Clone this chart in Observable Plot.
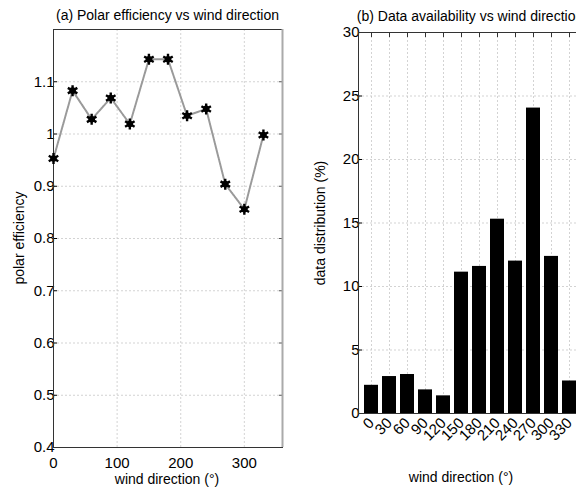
<!DOCTYPE html>
<html><head><meta charset="utf-8">
<script src="https://cdn.jsdelivr.net/npm/d3@7"></script>
<script src="https://cdn.jsdelivr.net/npm/@observablehq/plot@0.6"></script>
<style>
html,body{margin:0;padding:0;width:576px;height:488px;overflow:hidden;background:#fff;font-family:"Liberation Sans",Arial,Helvetica,sans-serif;}
#wrap{position:relative;width:576px;height:488px;overflow:hidden;}
.panel{position:absolute;top:0;}
.panel svg{max-width:none !important;}
.txt{position:absolute;font-size:14px;white-space:nowrap;color:#000;line-height:1;}
</style></head><body><div id="wrap"></div>
<script>
// ---- data ----
const directions = [0, 30, 60, 90, 120, 150, 180, 210, 240, 270, 300, 330];
const polarEfficiency = [0.953, 1.083, 1.028, 1.069, 1.019, 1.143, 1.143, 1.035, 1.048, 0.904, 0.856, 0.998];
const dataDistribution = [2.22, 2.91, 3.07, 1.86, 1.39, 11.13, 11.58, 15.30, 12.00, 24.05, 12.37, 2.56];
const dirTicks = [0, 100, 200, 300];
const effTicks = [0.4, 0.5, 0.6, 0.7, 0.8, 0.9, 1.0, 1.1];
const distTicks = [0, 5, 10, 15, 20, 25, 30];
const titleA = "(a) Polar efficiency vs wind direction";
const titleB = "(b) Data availability vs wind direction";
const xLabel = "wind direction (°)";
const yLabelA = "polar efficiency";
const yLabelB = "data distribution (%)";

const font = '"Liberation Sans", Arial, Helvetica, sans-serif';
const gridStyle = {stroke: "#c8c8c8", strokeOpacity: 1, strokeWidth: 0.8, strokeDasharray: "2,2"};
const wrap = document.getElementById("wrap");

function addText(str, cx, cy, rotate) {
  const d = document.createElement("div");
  d.className = "txt";
  d.textContent = str;
  d.style.left = cx + "px";
  d.style.top = cy + "px";
  d.style.transform = "translate(-50%,-50%)" + (rotate ? " rotate(" + rotate + "deg)" : "");
  wrap.appendChild(d);
}

// ---- panel (a) ----
const effData = directions.map((d, i) => ({dir: d, eff: polarEfficiency[i]}));
const left = Plot.plot({
  width: 290, height: 488,
  marginLeft: 53, marginRight: 8, marginTop: 29, marginBottom: 41,
  style: {fontFamily: font, fontSize: "15px", color: "#000", background: "transparent", overflow: "visible"},
  x: {domain: [0, 360]},
  y: {domain: [0.4, 1.2]},
  marks: [
    Plot.gridX(dirTicks.filter(d => d > 0), gridStyle),
    Plot.gridY(effTicks.filter(d => d > 0.4), gridStyle),
    Plot.axisX(dirTicks, {tickSize: 0, tickPadding: 10, label: null}),
    Plot.axisY(effTicks, {tickSize: -4, tickPadding: 3, tickFormat: d => String(+d.toFixed(1)), label: null}),
    Plot.axisY(effTicks, {anchor: "right", tickSize: -4, tickFormat: () => "", label: null, stroke: "#555"}),
    Plot.frame({stroke: "#333", strokeWidth: 1}),
    Plot.ruleX([360], {stroke: "#aaa", strokeWidth: 2}),
    Plot.line(effData, {x: "dir", y: "eff", stroke: "#9a9a9a", strokeWidth: 2, strokeDasharray: "1.5,0.8"}),
    Plot.dot(effData, {x: "dir", y: "eff", r: 3.3, fill: "#000", stroke: "none"}),
    Plot.dot(effData, {x: "dir", y: "eff", symbol: "asterisk", r: 5.2, stroke: "#000", strokeWidth: 2.4})
  ]
});
const lp = document.createElement("div");
lp.className = "panel"; lp.style.left = "0px"; lp.style.width = "290px";
lp.appendChild(left);
wrap.appendChild(lp);

// ---- panel (b) ----
const distData = directions.map((d, i) => ({dir: d, pct: dataDistribution[i]}));
const right = Plot.plot({
  width: 300, height: 488,
  marginLeft: 68, marginRight: 8, marginTop: 32, marginBottom: 75,
  style: {fontFamily: font, fontSize: "15px", color: "#000", background: "transparent", overflow: "visible"},
  x: {type: "band", domain: directions, paddingInner: 0.2, paddingOuter: 0.1},
  y: {domain: [0, 30]},
  marks: [
    Plot.gridX(directions, gridStyle),
    Plot.gridY(distTicks.filter(d => d > 0 && d < 30), gridStyle),
    Plot.barY(distData, {x: "dir", y: "pct", fill: "#000"}),
    Plot.axisX(directions, {tickSize: 0, tickPadding: 7, tickRotate: -45, label: null}),
    Plot.axisX(directions, {anchor: "top", tickSize: -4, tickFormat: () => "", label: null, stroke: "#333"}),
    Plot.axisY(distTicks, {tickSize: -4, tickPadding: 3, label: null}),
    Plot.frame({stroke: "#333", strokeWidth: 1})
  ]
});
const rp = document.createElement("div");
rp.className = "panel"; rp.style.left = "290px"; rp.style.width = "300px";
rp.appendChild(right);
wrap.appendChild(rp);

addText(titleA, 167.5, 15);
addText(titleB, 470, 16);
addText(xLabel, 167, 479);
addText(xLabel, 461, 477);
addText(yLabelA, 19, 238, -90);
addText(yLabelB, 320, 223, -90);
</script>
</body></html>
